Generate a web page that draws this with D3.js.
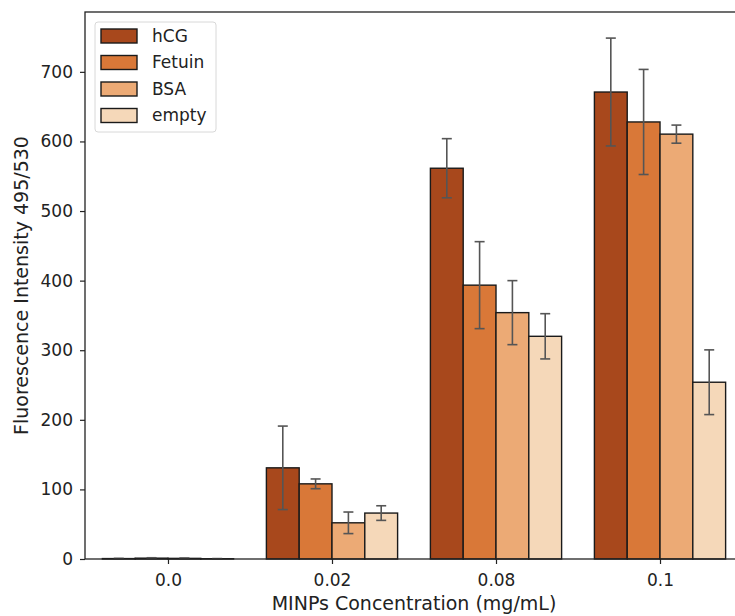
<!DOCTYPE html>
<html>
<head>
<meta charset="utf-8">
<script src="https://cdn.jsdelivr.net/npm/d3@7"></script>
<style>
  html, body { margin: 0; padding: 0; background: #fff; }
  svg { display: block; font-family: "DejaVu Sans", sans-serif; }
</style>
</head>
<body>
<svg id="chart" width="735" height="616"></svg>
<script>
// Concentrations on the x axis
const concentrations = ["0.0", "0.02", "0.08", "0.1"];
// Target proteins (one bar per protein in each group)
const proteins = ["hCG", "Fetuin", "BSA", "empty"];
const colors = ["#a8481c", "#d97838", "#ecaa75", "#f5d8b9"];

// Mean fluorescence per protein, one value per concentration
const hCG    = [0.6, 131, 561.5, 671];
const fetuin = [1.2, 108, 393.5, 628];
const bsa    = [0.9, 52, 354, 610.5];
const empty  = [0.4, 66, 320, 254];

// Standard deviations (error bars)
const hCGErr    = [0.3, 60, 42.5, 77.5];
const fetuinErr = [0.6, 7, 62.5, 75.5];
const bsaErr    = [0.4, 15.5, 46, 13];
const emptyErr  = [0.2, 10.5, 32.5, 46.5];

const yTicks = [0, 100, 200, 300, 400, 500, 600, 700];

const means = [hCG, fetuin, bsa, empty];
const errs = [hCGErr, fetuinErr, bsaErr, emptyErr];

const margin = { left: 85, right: 743, top: 12, bottom: 559 };
const svg = d3.select("#chart");

const x = d3.scaleLinear().domain([-0.506, 3.506]).range([margin.left, margin.right]);
const y = d3.scaleLinear().domain([0, 786]).range([margin.bottom, margin.top]);

const barW = 0.2;
const offsets = [-0.3, -0.1, 0.1, 0.3];

// Flatten into records for drawing
const records = [];
proteins.forEach((p, s) => {
  concentrations.forEach((c, i) => {
    records.push({ s, i, v: means[s][i], e: errs[s][i] });
  });
});

// Bars
svg.append("g").selectAll("rect").data(records).join("rect")
  .attr("x", d => x(d.i + offsets[d.s] - barW / 2))
  .attr("width", d => x(d.i + offsets[d.s] + barW / 2) - x(d.i + offsets[d.s] - barW / 2))
  .attr("y", d => y(d.v))
  .attr("height", d => y(0) - y(d.v))
  .attr("fill", d => colors[d.s])
  .attr("stroke", "#1a1a1a")
  .attr("stroke-width", 1.4);

// Error bars
const eb = svg.append("g").attr("stroke", "#555").attr("stroke-width", 1.6).attr("fill", "none");
records.forEach(d => {
  const cx = x(d.i + offsets[d.s]);
  const y1 = y(d.v + d.e), y2 = y(d.v - d.e);
  eb.append("line").attr("x1", cx).attr("x2", cx).attr("y1", y1).attr("y2", y2);
  eb.append("line").attr("x1", cx - 5).attr("x2", cx + 5).attr("y1", y1).attr("y2", y1);
  eb.append("line").attr("x1", cx - 5).attr("x2", cx + 5).attr("y1", y2).attr("y2", y2);
});

// Axes
const xAxis = d3.axisBottom(x)
  .tickValues(concentrations.map((c, i) => i))
  .tickFormat(i => concentrations[i])
  .tickSize(5).tickPadding(10);
const yAxis = d3.axisLeft(y)
  .tickValues(yTicks)
  .tickSize(5).tickPadding(7);

const gx = svg.append("g").attr("transform", `translate(0,${margin.bottom})`).call(xAxis);
const gy = svg.append("g").attr("transform", `translate(${margin.left},0)`).call(yAxis);
[gx, gy].forEach(g => {
  g.select(".domain").remove();
  g.selectAll(".tick line").attr("stroke", "#222").attr("stroke-width", 1.2);
  g.selectAll(".tick text").attr("fill", "#222").style("font-size", "17px")
    .style("font-family", "'DejaVu Sans', sans-serif");
});

// Spines
const spines = svg.append("g").attr("stroke", "#222").attr("stroke-width", 1.3).attr("fill", "none");
spines.append("rect")
  .attr("x", margin.left).attr("y", margin.top)
  .attr("width", margin.right - margin.left).attr("height", margin.bottom - margin.top);

// Axis titles
svg.append("text")
  .attr("x", (margin.left + margin.right) / 2).attr("y", 610)
  .attr("text-anchor", "middle").attr("fill", "#222")
  .style("font-size", "19px")
  .text("MINPs Concentration (mg/mL)");
svg.append("text")
  .attr("transform", `translate(28,${(margin.top + margin.bottom) / 2}) rotate(-90)`)
  .attr("text-anchor", "middle").attr("fill", "#222")
  .style("font-size", "19px")
  .text("Fluorescence Intensity 495/530");

// Legend
const lg = svg.append("g").attr("transform", "translate(95,22)");
lg.append("rect").attr("width", 121).attr("height", 110).attr("rx", 3)
  .attr("fill", "#fff").attr("fill-opacity", 0.85)
  .attr("stroke", "#d8d8d8").attr("stroke-width", 1);
proteins.forEach((p, s) => {
  const row = lg.append("g").attr("transform", `translate(0,${14 + s * 26.5})`);
  row.append("rect").attr("x", 6).attr("y", -7).attr("width", 36).attr("height", 14)
    .attr("fill", colors[s]).attr("stroke", "#1a1a1a").attr("stroke-width", 1.4);
  row.append("text").attr("x", 57).attr("y", 0).attr("dy", "0.35em")
    .attr("fill", "#222").style("font-size", "17px").text(p);
});
</script>
</body>
</html>
